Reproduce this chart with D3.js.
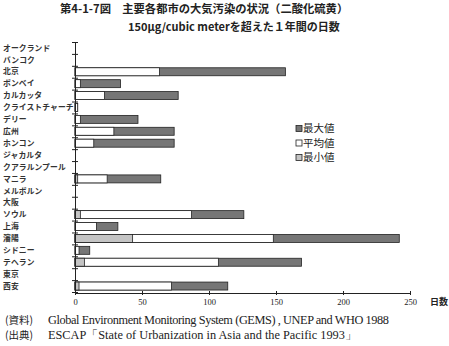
<!DOCTYPE html>
<html><head><meta charset="utf-8">
<script src="https://cdn.jsdelivr.net/npm/d3@7"></script>
<style>
body{margin:0;background:#fff;}
svg{display:block;}
</style></head>
<body>
<svg id="c" width="449" height="346"></svg>
<script>
const cities = ["オークランド","バンコク","北京","ボンベイ","カルカッタ","クライストチャーチ","デリー","広州","ホンコン","ジャカルタ","クアラルンプール","マニラ","メルボルン","大阪","ソウル","上海","瀋陽","シドニー","テヘラン","東京","西安"];
const maxVals = [0,0,157,34,77,2,47,74,74,0,0,64,0,0,126,32,242,11,169,0,114];
const avgVals = [0,0,63,4,22,2,4,29,14,0,0,24,0,0,87,16,148,3,107,0,72];
const minVals = [0,0,0,0,0,0,0,0,0,0,0,2,0,0,4,0,43,0,7,0,3];
const xTicks = [0,50,100,150,200,250];
const legendLabels = ["最大値","平均値","最小値"];

const svg = d3.select("#c");
const x = d3.scaleLinear().domain([0,250]).range([75,410]);
const y = d3.scaleBand().domain(cities).range([42,292]).paddingInner(0.33).paddingOuter(0.165);
const yB = d3.scaleLinear().domain([0,cities.length]).range([42,292]);

const colMax = "#767676", colAvg = "#ffffff", colMin = "#c4c4c4";

// title
svg.append("text").attr("x",60).attr("y",13).attr("font-family","Noto Sans CJK JP").attr("font-weight","bold")
  .attr("font-size",11.3).attr("fill","#222").text("第4-1-7図　主要各都市の大気汚染の状況（二酸化硫黄）");
svg.append("text").attr("x",128).attr("y",31).attr("font-family","Noto Sans CJK JP").attr("font-weight","bold")
  .attr("font-size",11).attr("fill","#222").text("150μg/cubic meterを超えた１年間の日数");

// bars
const g = svg.append("g");
const series = [[maxVals,colMax],[avgVals,colAvg],[minVals,colMin]];
series.forEach(([vals,col])=>{
  g.selectAll(null).data(cities.map((c,i)=>({c,v:vals[i]})).filter(d=>d.v>0)).enter().append("rect")
   .attr("x",x(0)).attr("y",d=>y(d.c)).attr("width",d=>x(d.v)-x(0)).attr("height",y.bandwidth())
   .attr("fill",col).attr("stroke","#222").attr("stroke-width",0.8);
});

// y axis
const ya = svg.append("g").attr("transform","translate(75,0)")
  .call(d3.axisLeft(yB).tickValues(d3.range(cities.length+1)).tickFormat("").tickSize(3).tickSizeOuter(0));
ya.selectAll(".tick line").attr("x1",-3).attr("x2",3).attr("stroke","#222");
ya.select(".domain").attr("stroke","#222");

// category labels
svg.append("g").selectAll("text").data(cities).enter().append("text")
  .attr("x",3).attr("y",d=>y(d)+y.bandwidth()/2).attr("dy","0.35em")
  .attr("font-family","Noto Sans CJK JP").attr("font-size",7.8).attr("font-weight","bold")
  .attr("letter-spacing",0.1).attr("fill","#333").text(d=>d);

// x axis
const xa = svg.append("g").attr("transform","translate(0,293)")
  .call(d3.axisBottom(x).tickValues(xTicks).tickSize(2).tickSizeOuter(0).tickPadding(4));
xa.selectAll(".tick line").attr("y1",-2).attr("y2",2).attr("stroke","#222");
xa.select(".domain").attr("stroke","#222");
xa.selectAll(".tick text").attr("font-family","Liberation Serif").attr("font-size",8.5).attr("fill","#222");
svg.append("text").attr("x",430).attr("y",305).attr("font-family","Noto Sans CJK JP").attr("font-weight","bold")
  .attr("font-size",9).attr("fill","#222").text("日数");

// legend
const lg = svg.append("g");
[colMax,colAvg,colMin].forEach((col,i)=>{
  const yy = 128.5 + i*14.5;
  lg.append("rect").attr("x",296).attr("y",yy-3).attr("width",6).attr("height",6)
    .attr("fill",col).attr("stroke","#222").attr("stroke-width",0.8);
  lg.append("text").attr("x",303).attr("y",yy).attr("dy","0.35em").attr("font-family","Noto Sans CJK JP")
    .attr("font-size",10.5).attr("fill","#222").text(legendLabels[i]);
});

// source
svg.append("text").attr("x",5).attr("y",324).attr("font-family","Noto Sans CJK JP").attr("font-size",10.5).attr("fill","#222").text("(資料)");
svg.append("text").attr("x",48).attr("y",324).attr("font-family","Liberation Serif").attr("font-size",12.3).attr("fill","#222")
  .attr("textLength",341).text("Global Environment Monitoring System (GEMS) , UNEP and WHO 1988");
svg.append("text").attr("x",5).attr("y",339).attr("font-family","Noto Sans CJK JP").attr("font-size",10.5).attr("fill","#222").text("(出典)");
svg.append("text").attr("x",48).attr("y",339).attr("font-family","Liberation Serif").attr("font-size",12.3).attr("fill","#222")
  .text("ESCAP「State of Urbanization in Asia and the Pacific 1993」");
</script>
</body></html>
